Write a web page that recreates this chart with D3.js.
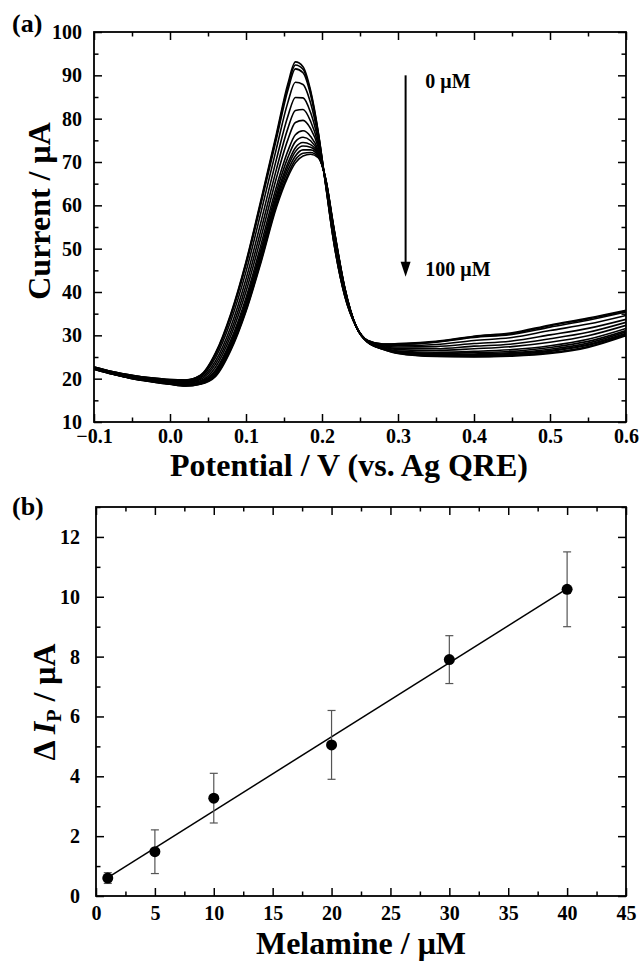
<!DOCTYPE html>
<html><head><meta charset="utf-8">
<script src="https://cdn.jsdelivr.net/npm/d3@7"></script>
<style>
body{margin:0;background:#fff}
svg{display:block}
text{font-family:"Liberation Serif","Times New Roman",serif;font-weight:bold;fill:#000}
</style>
</head><body><svg id="chart" width="640" height="961"></svg>
<script>
// ---------- Panel (a): DPV curves ----------
const potentials = [-0.1,-0.075,-0.05,-0.025,0.0,0.02,0.04,0.06,0.08,0.1,0.12,0.14,0.155,0.165,0.175,0.185,0.195,0.205,0.215,0.23,0.245,0.26,0.28,0.3,0.35,0.4,0.45,0.5,0.55,0.6];
const concLabels = ["0 μM","100 μM"];
const cur00 = [22.7,21.6,20.8,20.2,19.8,19.7,20.8,26.0,35.0,47.0,61.5,76.5,88.0,93.1,92.0,86.5,77.0,64.5,52.0,39.0,32.0,28.8,28.0,28.1,28.6,29.8,30.6,32.4,34.0,35.8];
const cur01 = [22.7,21.6,20.8,20.2,19.8,19.7,20.7,25.8,34.7,46.7,61.1,76.0,87.4,92.4,91.4,86.1,76.8,64.5,52.1,39.1,32.0,28.8,28.0,28.0,28.5,29.7,30.4,32.2,33.8,35.6];
const cur02 = [22.7,21.6,20.7,20.1,19.7,19.6,20.7,25.6,34.4,46.2,60.5,75.3,86.5,91.5,90.6,85.5,76.6,64.6,52.2,39.1,32.0,28.8,27.9,27.9,28.4,29.5,30.2,31.9,33.5,35.4];
const cur03 = [22.6,21.5,20.6,20.0,19.6,19.4,20.4,24.9,33.3,44.7,58.6,73.1,83.7,88.4,87.9,83.6,75.8,64.8,52.7,39.4,32.0,28.7,27.8,27.6,27.9,28.8,29.5,31.1,32.6,34.6];
const cur04 = [22.5,21.4,20.5,19.9,19.4,19.2,20.1,24.1,32.0,43.0,56.4,70.6,80.5,84.9,84.8,81.4,74.9,65.0,53.2,39.7,32.0,28.7,27.6,27.3,27.4,28.1,28.7,30.1,31.6,33.7];
const cur05 = [22.5,21.3,20.4,19.8,19.3,19.0,19.8,23.4,30.9,41.5,54.5,68.3,77.7,81.9,82.1,79.4,74.1,65.2,53.7,40.0,32.0,28.6,27.4,27.0,26.9,27.5,28.0,29.2,30.7,33.0];
const cur06 = [22.4,21.2,20.3,19.7,19.1,18.9,19.5,22.7,29.9,40.1,52.8,66.3,75.1,79.1,79.6,77.7,73.4,65.4,54.1,40.2,32.0,28.6,27.3,26.7,26.5,26.9,27.4,28.4,29.9,32.3];
const cur07 = [22.3,21.2,20.2,19.6,19.0,18.7,19.3,22.0,28.9,38.7,51.1,64.3,72.5,76.3,77.2,75.9,72.7,65.6,54.5,40.4,32.0,28.5,27.1,26.4,26.1,26.3,26.7,27.6,29.1,31.6];
const cur08 = [22.3,21.1,20.2,19.5,18.9,18.6,19.1,21.7,28.3,37.9,50.0,63.1,71.0,74.7,75.7,74.9,72.3,65.7,54.8,40.6,32.0,28.5,27.1,26.3,25.8,26.0,26.3,27.2,28.6,31.1];
const cur09 = [22.3,21.1,20.1,19.4,18.9,18.5,19.0,21.3,27.8,37.2,49.2,62.1,69.7,73.3,74.5,74.0,71.9,65.8,55.0,40.7,32.0,28.5,27.0,26.1,25.6,25.7,26.0,26.8,28.2,30.8];
const cur10 = [22.3,21.1,20.1,19.4,18.8,18.5,18.9,21.1,27.4,36.8,48.6,61.4,68.9,72.4,73.7,73.4,71.7,65.8,55.1,40.8,32.0,28.4,26.9,26.1,25.5,25.5,25.8,26.5,27.9,30.5];
const cur11 = [22.2,21.0,20.1,19.4,18.8,18.4,18.8,20.9,27.1,36.3,48.0,60.7,68.0,71.4,72.8,72.8,71.4,65.9,55.3,40.9,32.0,28.4,26.9,26.0,25.3,25.3,25.6,26.3,27.7,30.3];
const cur12 = [22.2,21.0,20.0,19.3,18.7,18.3,18.8,20.7,26.8,35.8,47.4,60.0,67.1,70.5,72.0,72.2,71.2,66.0,55.4,40.9,32.0,28.4,26.8,25.9,25.2,25.1,25.4,26.0,27.4,30.1];
const cur13 = [22.2,21.0,20.0,19.3,18.7,18.3,18.7,20.5,26.5,35.5,47.0,59.5,66.5,69.8,71.4,71.8,71.0,66.0,55.5,41.0,32.0,28.4,26.8,25.8,25.1,25.0,25.2,25.8,27.2,29.9];
const currentSeries = [cur00,cur01,cur02,cur03,cur04,cur05,cur06,cur07,cur08,cur09,cur10,cur11,cur12,cur13];
const potTicks = [-0.1,0.0,0.1,0.2,0.3,0.4,0.5,0.6];
const potMinor = [-0.05,0.05,0.15,0.25,0.35,0.45,0.55];
const curTicks = [10,20,30,40,50,60,70,80,90,100];
const curMinor = [15,25,35,45,55,65,75,85,95];

// ---------- Panel (b): calibration ----------
const melamine = [1,5,10,20,30,40];
const deltaIp = [0.6,1.48,3.27,5.05,7.9,10.25];
const deltaIpErr = [0.18,0.73,0.83,1.15,0.8,1.25];
const fitSlope = 0.2475, fitIntercept = 0.37;
const melTicks = [0,5,10,15,20,25,30,35,40,45];
const melMinor = [2.5,7.5,12.5,17.5,22.5,27.5,32.5,37.5,42.5];
const ipTicks = [0,2,4,6,8,10,12];
const ipMinor = [1,3,5,7,9,11,13];

const svg = d3.select("#chart");

function frameAxes(g, x, y, w, h, xt, xm, yt, ym, xPad, yPad, xFmt, yFmt) {
  const maj = 8, mnr = 4.5;
  const style = sel => { sel.select(".domain").remove(); sel.selectAll("line").attr("stroke","#000").attr("stroke-width",1.5); sel.selectAll("text").attr("font-size",20).attr("font-family",null); };
  g.append("g").attr("transform",`translate(0,${h})`).call(d3.axisBottom(x).tickValues(xt).tickSize(-maj).tickPadding(xPad).tickFormat(xFmt)).call(style);
  g.append("g").attr("transform",`translate(0,${h})`).call(d3.axisBottom(x).tickValues(xm).tickSize(-mnr).tickFormat("")).call(style);
  g.append("g").call(d3.axisTop(x).tickValues(xt).tickSize(-maj).tickFormat("")).call(style);
  g.append("g").call(d3.axisTop(x).tickValues(xm).tickSize(-mnr).tickFormat("")).call(style);
  g.append("g").call(d3.axisLeft(y).tickValues(yt).tickSize(-maj).tickPadding(yPad).tickFormat(yFmt)).call(style);
  g.append("g").call(d3.axisLeft(y).tickValues(ym).tickSize(-mnr).tickFormat("")).call(style);
  g.append("g").attr("transform",`translate(${w},0)`).call(d3.axisRight(y).tickValues(yt).tickSize(-maj).tickFormat("")).call(style);
  g.append("g").attr("transform",`translate(${w},0)`).call(d3.axisRight(y).tickValues(ym).tickSize(-mnr).tickFormat("")).call(style);
  g.append("rect").attr("width",w).attr("height",h).attr("fill","none").attr("stroke","#000").attr("stroke-width",1.8);
}

// ----- Panel a -----
{
  const L=94, T=32, W=532, H=390;
  const g = svg.append("g").attr("transform",`translate(${L},${T})`);
  const x = d3.scaleLinear().domain([-0.1,0.6]).range([0,W]);
  const y = d3.scaleLinear().domain([10,100]).range([H,0]);
  g.append("clipPath").attr("id","clipA").append("rect").attr("width",W).attr("height",H);
  const line = d3.line().x((d,i)=>x(potentials[i])).y(d=>y(d)).curve(d3.curveMonotoneX);
  g.append("g").attr("clip-path","url(#clipA)").selectAll("path").data(currentSeries).join("path")
    .attr("d",line).attr("fill","none").attr("stroke","#000").attr("stroke-width",1.6);
  frameAxes(g,x,y,W,H,potTicks,potMinor,curTicks,curMinor,7,12,d3.format(".1f"),d3.format("d"));
  // arrow annotation
  const ax = 0.31, aTop = 90, aBot = 43.5;
  g.append("line").attr("x1",x(ax)).attr("x2",x(ax)).attr("y1",y(aTop)).attr("y2",y(aBot)-12).attr("stroke","#000").attr("stroke-width",2);
  g.append("path").attr("d",`M${x(ax)-5},${y(aBot)-15}L${x(ax)+5},${y(aBot)-15}L${x(ax)},${y(aBot)}Z`).attr("fill","#000");
  g.append("text").attr("x",x(0.336)).attr("y",y(87.1)).attr("font-size",20).text(concLabels[0]);
  g.append("text").attr("x",x(0.336)).attr("y",y(43.7)).attr("font-size",20).text(concLabels[1]);
  svg.append("text").attr("x",349).attr("y",476).attr("text-anchor","middle").attr("font-size",32).text("Potential / V (vs. Ag QRE)");
  svg.append("text").attr("transform","translate(50,211) rotate(-90)").attr("text-anchor","middle").attr("font-size",32).text("Current / μA");
  svg.append("text").attr("x",12).attr("y",32).attr("font-size",26).text("(a)");
}

// ----- Panel b -----
{
  const L=96, T=507, W=530, H=389;
  const g = svg.append("g").attr("transform",`translate(${L},${T})`);
  const x = d3.scaleLinear().domain([0,45]).range([0,W]);
  const y = d3.scaleLinear().domain([0,13]).range([H,0]);
  frameAxes(g,x,y,W,H,melTicks,melMinor,ipTicks,ipMinor,10,16,d3.format("d"),d3.format("d"));
  // fit line
  const fitX = [melamine[0], melamine[melamine.length-1]];
  g.append("path").datum(fitX).attr("d",d3.line().x(d=>x(d)).y(d=>y(fitSlope*d+fitIntercept)))
    .attr("stroke","#000").attr("stroke-width",1.5).attr("fill","none");
  // error bars
  const eb = g.append("g").attr("stroke","#555").attr("stroke-width",1.2);
  melamine.forEach((m,i)=>{
    const x0=x(m), y1=y(deltaIp[i]+deltaIpErr[i]), y2=y(deltaIp[i]-deltaIpErr[i]);
    eb.append("line").attr("x1",x0).attr("x2",x0).attr("y1",y1).attr("y2",y2);
    eb.append("line").attr("x1",x0-4).attr("x2",x0+4).attr("y1",y1).attr("y2",y1);
    eb.append("line").attr("x1",x0-4).attr("x2",x0+4).attr("y1",y2).attr("y2",y2);
  });
  g.selectAll("circle").data(melamine).join("circle").attr("cx",d=>x(d)).attr("cy",(d,i)=>y(deltaIp[i])).attr("r",5.5).attr("fill","#000");
  svg.append("text").attr("x",361).attr("y",954).attr("text-anchor","middle").attr("font-size",32).text("Melamine / μM");
  const yt = svg.append("text").attr("transform","translate(55,702) rotate(-90)").attr("text-anchor","middle").attr("font-size",32);
  yt.append("tspan").text("Δ ");
  yt.append("tspan").attr("font-style","italic").text("I");
  yt.append("tspan").attr("font-size",20).attr("dy",6).text("P");
  yt.append("tspan").attr("dy",-6).text(" / μA");
  svg.append("text").attr("x",12).attr("y",515).attr("font-size",26).text("(b)");
}
</script>
</body></html>
